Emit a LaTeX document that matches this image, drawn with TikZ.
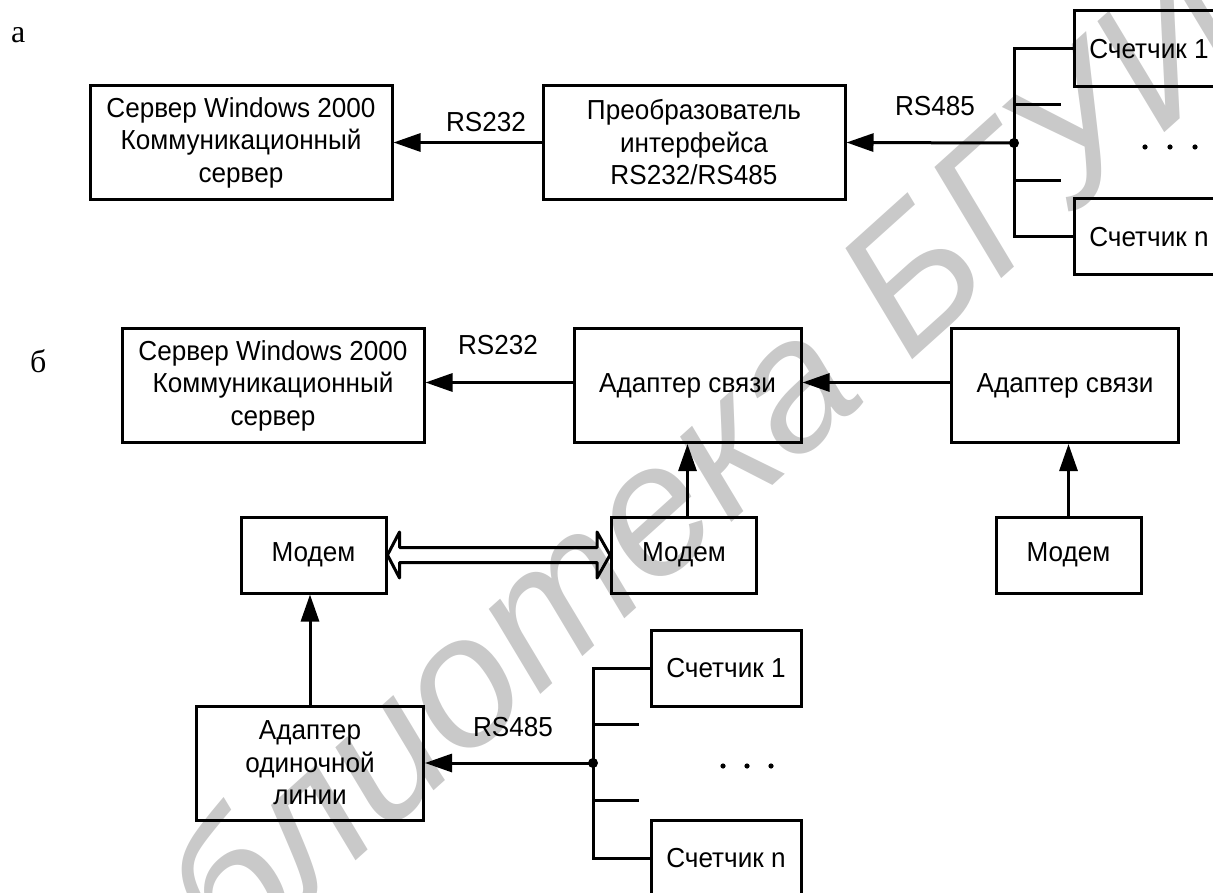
\documentclass[tikz,border=0pt]{standalone}
\usepackage{fontspec}
\setmainfont{Liberation Sans}[FakeStretch=0.95]
\newfontfamily\partfont{Liberation Serif}
\newfontfamily\markfont{Liberation Sans}
\usetikzlibrary{arrows.meta,calc}

\begin{document}
\begin{tikzpicture}[x=1pt,y=-1pt,
  lbl/.style={font=\fontsize{27.5}{32.5}\selectfont},
  partlbl/.style={font=\partfont\fontsize{32}{36}\selectfont, inner sep=0pt},
  blk/.style={draw, line width=3pt, inner sep=0pt, align=center, lbl},
  widebox/.style={blk, minimum width=302pt, minimum height=114pt},
  midbox/.style={blk, minimum width=227pt, minimum height=114pt},
  modembox/.style={blk, minimum width=145pt, minimum height=76pt},
  meterbox/.style={blk, minimum width=150pt, minimum height=76pt},
  wire/.style={line width=3pt},
  arr/.style={wire, -{Triangle[length=27pt,width=18pt]}},
  hollow/.style={line width=3pt, line join=round},
  stamp/.style={font=\markfont\itshape\fontsize{185}{200}\selectfont, text=black!21, rotate=42, anchor=base, inner sep=0pt}
]
\useasboundingbox (0,0) rectangle (1213,893);
\clip (0,0) rectangle (1213,893);

% library stamp in the background
\node[stamp] (stamp) at (709,543) {Библиотека БГУИР};

% ---------------- part a ----------------
\node[partlbl, anchor=base west] (pa) at (11,43) {а};

\node[widebox] (srvA) at (241,142.5) {Сервер Windows 2000\\Коммуникационный\\сервер};
\node[widebox] (conv) at (694,142.5) {Преобразователь\\интерфейса\\RS232/RS485};
\node[meterbox] (cntA1) at (1149,49) {Счетчик 1};
\node[meterbox] (cntAn) at (1149,237) {Счетчик n};

\coordinate (jA) at (1014,143);
\coordinate (sA1) at (1061,105);
\coordinate (sA2) at (1061,181);
\coordinate (dotsA) at (1145,147);

\draw[wire] (cntA1.west) -| (jA) |- (cntAn.west);
\draw[wire] (jA |- sA1) -- (sA1);
\draw[wire] (jA |- sA2) -- (sA2);
\fill (jA) circle (5pt);
\foreach \dx in {0,25,50} \fill ($(dotsA)+(\dx,0)$) circle (2.6pt);

\draw[arr] (jA) -- (conv.east);
\draw[arr] (conv.west) -- (srvA.east);

\node[lbl] (rsA1) at (486,122) {RS232};
\node[lbl] (rsA2) at (935,106) {RS485};

% ---------------- part b ----------------
\node[partlbl, anchor=base west] (pb) at (30,373) {б};

\node[widebox] (srvB) at (273,385.5) {Сервер Windows 2000\\Коммуникационный\\сервер};
\node[midbox] (adp1) at (687.5,385.5) {Адаптер связи};
\node[midbox] (adp2) at (1065,385.5) {Адаптер связи};

\node[modembox] (mdm1) at (313.5,555) {Модем};
\node[modembox] (mdm2) at (684,555) {Модем};
\node[modembox] (mdm3) at (1068.5,555) {Модем};

\node[midbox] (adpS) at (310,763) {Адаптер\\одиночной\\линии};
\node[meterbox] (cntB1) at (726,668) {Счетчик 1};
\node[meterbox] (cntBn) at (726,858) {Счетчик n};

\draw[arr] ([yshift=3pt]adp1.west) -- ([yshift=3pt]srvB.east);
\draw[arr] ([yshift=3pt]adp2.west) -- ([yshift=3pt]adp1.east);
\draw[arr] (adp1.south |- mdm2.north) -- (adp1.south);
\draw[arr] (mdm3.north) -- (mdm3.north |- adp2.south);
\draw[arr] (adpS.north) -- (adpS.north |- mdm1.south);

% two-way hollow link between the modems
\draw[hollow] (mdm1.east) -- ++(12,-23) -- ++(0,15.5)
  -- ($(mdm2.west)+(-13,-7.5)$) -- ++(0,-15.5) -- (mdm2.west)
  -- ++(-13,23) -- ++(0,-15.5)
  -- ($(mdm1.east)+(12,7.5)$) -- ++(0,15.5) -- cycle;

\coordinate (jB) at (593,763);
\coordinate (sB1) at (639,724);
\coordinate (sB2) at (639,800);
\coordinate (dotsB) at (723,766);

\draw[wire] (cntB1.west) -| (jB) |- (cntBn.west);
\draw[wire] (jB |- sB1) -- (sB1);
\draw[wire] (jB |- sB2) -- (sB2);
\fill (jB) circle (5pt);
\foreach \dx in {0,24,48} \fill ($(dotsB)+(\dx,0)$) circle (2.6pt);

\draw[arr] (jB) -- (adpS.east);

\node[lbl] (rsB1) at (498,345) {RS232};
\node[lbl] (rsB2) at (513,727) {RS485};
\end{tikzpicture}
\end{document}
